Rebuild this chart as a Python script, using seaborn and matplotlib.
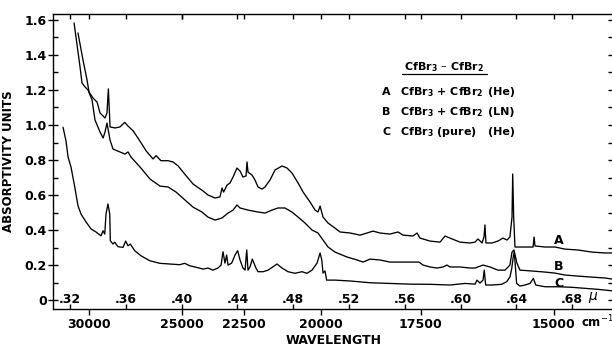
import matplotlib
matplotlib.use("Agg")
import matplotlib.pyplot as plt
import matplotlib.transforms as mtransforms
from matplotlib.lines import Line2D
from matplotlib.ticker import MultipleLocator, NullFormatter
import pandas as pd
import seaborn as sns

# Wavelength (micron) and absorptivity for the three spectra
wl_a = [0.3257, 0.3293, 0.3322, 0.3336, 0.3365, 0.3394, 0.3415, 0.3451, 0.3465, 0.3475,
        0.3487, 0.3523, 0.3558, 0.3592, 0.3616, 0.3652, 0.3700, 0.3745, 0.3795, 0.3817,
        0.3852, 0.3903, 0.3938, 0.3974, 0.4022, 0.4082, 0.4154, 0.4189, 0.4240, 0.4275,
        0.4290, 0.4301, 0.4326, 0.4347, 0.4369, 0.4397, 0.4419, 0.4440, 0.4462, 0.4469,
        0.4476, 0.4505, 0.4526, 0.4548, 0.4577, 0.4598, 0.4634, 0.4670, 0.4720, 0.4756,
        0.4791, 0.4835, 0.4871, 0.4921, 0.4957, 0.4978, 0.4993, 0.5014, 0.5050, 0.5100,
        0.5136, 0.5208, 0.5279, 0.5329, 0.5372, 0.5423, 0.5494, 0.5552, 0.5587, 0.5659,
        0.5688, 0.5709, 0.5781, 0.5853, 0.5889, 0.5924, 0.5996, 0.6068, 0.6104, 0.6125,
        0.6154, 0.6168, 0.6175, 0.6182, 0.6225, 0.6268, 0.6304, 0.6333, 0.6354, 0.6369,
        0.6374, 0.6381, 0.6390, 0.6412, 0.6484, 0.6520, 0.6527, 0.6534, 0.6606, 0.6678,
        0.6749, 0.6842, 0.6943, 0.7036, 0.7086]
abs_a = [1.526, 1.371, 1.257, 1.189, 1.154, 1.131, 1.069, 1.040, 1.069, 1.206,
         0.989, 0.983, 0.989, 1.015, 0.994, 0.967, 0.910, 0.853, 0.806, 0.825,
         0.796, 0.796, 0.789, 0.767, 0.720, 0.663, 0.623, 0.600, 0.583, 0.589,
         0.640, 0.617, 0.657, 0.669, 0.703, 0.754, 0.737, 0.703, 0.709, 0.789,
         0.731, 0.714, 0.686, 0.646, 0.634, 0.646, 0.686, 0.743, 0.766, 0.754,
         0.726, 0.669, 0.617, 0.560, 0.514, 0.503, 0.537, 0.474, 0.440, 0.411,
         0.389, 0.383, 0.371, 0.383, 0.394, 0.383, 0.377, 0.389, 0.371, 0.366,
         0.383, 0.354, 0.337, 0.331, 0.366, 0.354, 0.331, 0.326, 0.331, 0.349,
         0.326, 0.360, 0.429, 0.326, 0.326, 0.337, 0.354, 0.343, 0.360, 0.474,
         0.720, 0.474, 0.303, 0.303, 0.303, 0.303, 0.360, 0.309, 0.303, 0.303,
         0.291, 0.286, 0.274, 0.269, 0.269]

wl_b = [0.3229, 0.3272, 0.3286, 0.3308, 0.3329, 0.3358, 0.3379, 0.3415, 0.3437, 0.3451,
        0.3465, 0.3487, 0.3508, 0.3558, 0.3594, 0.3616, 0.3637, 0.3702, 0.3774, 0.3845,
        0.3903, 0.3960, 0.4032, 0.4082, 0.4146, 0.4189, 0.4240, 0.4290, 0.4333, 0.4369,
        0.4397, 0.4419, 0.4476, 0.4548, 0.4598, 0.4648, 0.4691, 0.4741, 0.4791, 0.4835,
        0.4885, 0.4935, 0.4978, 0.5014, 0.5050, 0.5100, 0.5186, 0.5258, 0.5301, 0.5351,
        0.5423, 0.5494, 0.5566, 0.5638, 0.5702, 0.5731, 0.5781, 0.5831, 0.5874, 0.5903,
        0.5924, 0.5996, 0.6068, 0.6104, 0.6161, 0.6211, 0.6268, 0.6319, 0.6354, 0.6369,
        0.6383, 0.6404, 0.6426, 0.6512, 0.6605, 0.6677, 0.6749, 0.6842, 0.6943, 0.7036,
        0.7086]
abs_b = [1.583, 1.331, 1.240, 1.217, 1.200, 1.143, 1.029, 0.960, 0.926, 0.960,
         1.011, 0.914, 0.863, 0.846, 0.834, 0.846, 0.817, 0.760, 0.691, 0.651,
         0.646, 0.617, 0.566, 0.531, 0.503, 0.474, 0.457, 0.469, 0.497, 0.514,
         0.543, 0.526, 0.514, 0.503, 0.497, 0.514, 0.526, 0.526, 0.503, 0.474,
         0.440, 0.400, 0.383, 0.343, 0.303, 0.274, 0.246, 0.229, 0.217, 0.234,
         0.229, 0.217, 0.217, 0.217, 0.217, 0.200, 0.189, 0.183, 0.189, 0.200,
         0.189, 0.189, 0.183, 0.183, 0.200, 0.189, 0.171, 0.171, 0.200, 0.274,
         0.286, 0.211, 0.171, 0.166, 0.160, 0.154, 0.143, 0.137, 0.131, 0.126,
         0.120]

wl_c = [0.3150, 0.3171, 0.3186, 0.3207, 0.3234, 0.3257, 0.3279, 0.3315, 0.3351, 0.3386,
        0.3422, 0.3437, 0.3449, 0.3458, 0.3472, 0.3485, 0.3489, 0.3508, 0.3520, 0.3544,
        0.3580, 0.3599, 0.3616, 0.3632, 0.3664, 0.3709, 0.3771, 0.3843, 0.3915, 0.3987,
        0.4022, 0.4058, 0.4106, 0.4154, 0.4189, 0.4225, 0.4261, 0.4283, 0.4297, 0.4311,
        0.4323, 0.4333, 0.4359, 0.4383, 0.4402, 0.4419, 0.4440, 0.4455, 0.4467, 0.4476,
        0.4491, 0.4507, 0.4519, 0.4533, 0.4548, 0.4584, 0.4620, 0.4655, 0.4684, 0.4720,
        0.4763, 0.4813, 0.4863, 0.4899, 0.4935, 0.4971, 0.4993, 0.5005, 0.5014, 0.5028,
        0.5040, 0.5100, 0.5208, 0.5351, 0.5494, 0.5638, 0.5781, 0.5924, 0.6032, 0.6104,
        0.6118, 0.6139, 0.6161, 0.6170, 0.6180, 0.6223, 0.6295, 0.6331, 0.6355, 0.6367,
        0.6378, 0.6385, 0.6395, 0.6402, 0.6426, 0.6462, 0.6498, 0.6522, 0.6539, 0.6606,
        0.6701, 0.6797, 0.6893, 0.6988, 0.7086]
abs_c = [0.987, 0.910, 0.817, 0.760, 0.646, 0.539, 0.491, 0.446, 0.406, 0.389,
         0.367, 0.396, 0.377, 0.491, 0.549, 0.491, 0.339, 0.320, 0.331, 0.305,
         0.301, 0.337, 0.310, 0.320, 0.282, 0.253, 0.225, 0.210, 0.206, 0.202,
         0.210, 0.196, 0.187, 0.177, 0.183, 0.171, 0.183, 0.200, 0.276, 0.211,
         0.257, 0.200, 0.211, 0.257, 0.282, 0.229, 0.183, 0.171, 0.286, 0.171,
         0.190, 0.234, 0.211, 0.183, 0.162, 0.162, 0.171, 0.190, 0.206, 0.183,
         0.162, 0.153, 0.162, 0.153, 0.171, 0.211, 0.269, 0.229, 0.154, 0.167,
         0.114, 0.114, 0.109, 0.099, 0.095, 0.091, 0.090, 0.086, 0.095, 0.091,
         0.114, 0.097, 0.114, 0.171, 0.086, 0.086, 0.090, 0.105, 0.133, 0.181,
         0.247, 0.276, 0.171, 0.095, 0.080, 0.086, 0.095, 0.124, 0.086, 0.076,
         0.076, 0.073, 0.067, 0.061, 0.053]

curve_names = ["A", "B", "C"]
curve_label_pos = [(0.6706, 0.343), (0.6706, 0.189), (0.6706, 0.097)]

wl_ticks = [0.32, 0.36, 0.40, 0.44, 0.48, 0.52, 0.56, 0.60, 0.64, 0.68]
wl_labels = [".32", ".36", ".40", ".44", ".48", ".52", ".56", ".60", ".64", ".68"]
wn_ticks = [30000, 25000, 22500, 20000, 17500, 15000]
wn_labels = ["30000", "25000", "22500", "20000", "17500", "15000"]
y_ticks = [0, 0.2, 0.4, 0.6, 0.8, 1.0, 1.2, 1.4, 1.6]
y_labels = ["0", "0.2", "0.4", "0.6", "0.8", "1.0", "1.2", "1.4", "1.6"]

legend_title = r"CfBr$_\mathbf{3}$ – CfBr$_\mathbf{2}$"
legend_rows = [("A", r"CfBr$_\mathbf{3}$ + CfBr$_\mathbf{2}$", "(He)"),
               ("B", r"CfBr$_\mathbf{3}$ + CfBr$_\mathbf{2}$", "(LN)"),
               ("C", r"CfBr$_\mathbf{3}$ (pure)", "(He)")]

sns.set_style("ticks")
plt.rcParams["font.family"] = ["DejaVu Sans"]
plt.rcParams["mathtext.fontset"] = "dejavusans"
for key in ["text.color", "axes.labelcolor", "xtick.color", "ytick.color",
            "axes.edgecolor"]:
    plt.rcParams[key] = "black"

fig = plt.figure(figsize=(6.12, 3.47), dpi=100)
ax = fig.add_axes([53 / 612, 1 - 309 / 347, 560 / 612, 295 / 347])

frames = [
    pd.DataFrame({"wavelength": wl_a, "absorptivity": abs_a}),
    pd.DataFrame({"wavelength": wl_b, "absorptivity": abs_b}),
    pd.DataFrame({"wavelength": wl_c, "absorptivity": abs_c}),
]
for df in frames:
    sns.lineplot(data=df, x="wavelength", y="absorptivity", ax=ax, color="black",
                 linewidth=0.95, estimator=None, sort=False)

ax.set_xlim(0.3078, 0.7093)
ax.set_ylim(-0.051, 1.634)
ax.set_xlabel("")
ax.set_ylabel("ABSORPTIVITY UNITS", fontsize=8.5, fontweight="bold")
ax.yaxis.set_label_coords(-0.068, 0.5)

for side in ["top", "right", "left", "bottom"]:
    ax.spines[side].set_linewidth(1.0)
    ax.spines[side].set_color("black")

# wavelength ticks: inward on bottom and top, labels sitting inside the frame
ax.set_xticks(wl_ticks)
ax.set_xticklabels(wl_labels)
ax.tick_params(axis="x", which="major", direction="in", length=3.5, width=1.0,
               top=True, bottom=True, pad=-11.5, labelsize=9)
for lab in ax.get_xticklabels():
    lab.set_fontweight("bold")

# absorptivity ticks
ax.set_yticks(y_ticks)
ax.set_yticklabels(y_labels)
ax.yaxis.set_minor_locator(MultipleLocator(0.1))
ax.tick_params(axis="y", which="major", direction="inout", length=7, width=1.0,
               left=True, right=True, pad=1, labelsize=9)
ax.tick_params(axis="y", which="minor", direction="in", length=3.5, width=1.0,
               left=True, right=True)
for lab in ax.get_yticklabels():
    lab.set_fontweight("bold")

# wavenumber scale (cm^-1)
to_wn = (lambda w: 1e4 / w, lambda k: 1e4 / k)
sec = ax.secondary_xaxis("bottom", functions=to_wn)
sec.set_xticks(wn_ticks)
sec.set_xticklabels(wn_labels)
sec.tick_params(axis="x", direction="out", length=4, width=1.0, pad=2.5, labelsize=9)
for lab in sec.get_xticklabels():
    lab.set_fontweight("bold")
sec.spines["bottom"].set_visible(False)

sec_top = ax.secondary_xaxis("top", functions=to_wn)
sec_top.set_xticks(wn_ticks)
sec_top.xaxis.set_major_formatter(NullFormatter())
sec_top.tick_params(axis="x", direction="in", length=3.5, width=1.0)
sec_top.spines["top"].set_visible(False)

blend = mtransforms.blended_transform_factory(ax.transData, ax.transAxes)
ax.text(0.6950, 0.012, r"$\mu$", transform=ax.transData, ha="center", va="center",
        fontsize=10, fontweight="bold")
ax.text(0.6862, -0.044, "cm$^{-1}$", transform=blend, ha="left", va="center",
        fontsize=8.5, fontweight="bold")

fig.text(334 / 612, 1 - 340 / 347, "WAVELENGTH", ha="center", va="center",
         fontsize=9, fontweight="bold")

# curve identifiers
for name, (lx, ly) in zip(curve_names, curve_label_pos):
    ax.text(lx, ly, name, ha="center", va="center", fontsize=9, fontweight="bold")

# sample key
ax.text(0.699, 0.820, legend_title, transform=ax.transAxes, ha="center", va="center",
        fontsize=8, fontweight="bold")
ax.add_line(Line2D([0.623, 0.775], [0.797, 0.797], transform=ax.transAxes,
                   color="black", linewidth=0.9))
for (letter, formula, cond), ry in zip(legend_rows, [0.7356, 0.6678, 0.600]):
    ax.text(0.595, ry, letter, transform=ax.transAxes, ha="center", va="center",
            fontsize=8, fontweight="bold")
    ax.text(0.620, ry, formula, transform=ax.transAxes, ha="left", va="center",
            fontsize=8, fontweight="bold")
    ax.text(0.777, ry, cond, transform=ax.transAxes, ha="left", va="center",
            fontsize=8, fontweight="bold")

fig.savefig("out.png", dpi=100)
